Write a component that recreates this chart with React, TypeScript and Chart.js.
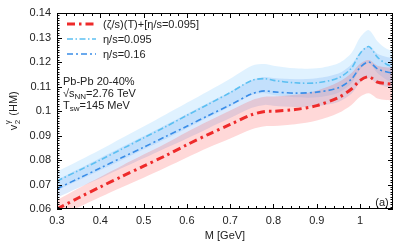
import { useEffect, useRef } from "react";
import { Chart, registerables } from "chart.js";
Chart.register(...registerables);

const masses = [0.3, 0.35, 0.4, 0.45, 0.5, 0.55, 0.6, 0.65, 0.7, 0.75, 0.78, 0.8, 0.85, 0.9, 0.95, 0.98, 1.0, 1.02, 1.04, 1.06, 1.076];

const zetaLine = [0.0600, 0.0646, 0.0690, 0.0733, 0.0775, 0.0817, 0.0862, 0.0905, 0.0945, 0.0985, 0.0998, 0.0999, 0.1006, 0.1022, 0.1055, 0.1090, 0.1125, 0.1140, 0.1118, 0.1112, 0.1110];
const zetaHigh = [0.0636, 0.0685, 0.0731, 0.0777, 0.0822, 0.0866, 0.0914, 0.0959, 0.1002, 0.1044, 0.1058, 0.1059, 0.1066, 0.1083, 0.1118, 0.1155, 0.1193, 0.1208, 0.1185, 0.1179, 0.1177];
const zetaLow = [0.0564, 0.0607, 0.0649, 0.0689, 0.0728, 0.0768, 0.0810, 0.0851, 0.0888, 0.0926, 0.0938, 0.0939, 0.0946, 0.0961, 0.0992, 0.1025, 0.1058, 0.1072, 0.1051, 0.1045, 0.1043];

const eta095Line = [0.0714, 0.0757, 0.0800, 0.0845, 0.0890, 0.0935, 0.0982, 0.1028, 0.1075, 0.1125, 0.1132, 0.1125, 0.1115, 0.1115, 0.1135, 0.1175, 0.1235, 0.1263, 0.1220, 0.1192, 0.1180];
const eta095High = [0.0752, 0.0797, 0.0842, 0.0890, 0.0937, 0.0985, 0.1034, 0.1082, 0.1132, 0.1185, 0.1192, 0.1185, 0.1174, 0.1174, 0.1195, 0.1237, 0.1300, 0.1330, 0.1285, 0.1255, 0.1245];
const eta095Low = [0.0676, 0.0717, 0.0758, 0.0800, 0.0843, 0.0885, 0.0930, 0.0974, 0.1018, 0.1065, 0.1072, 0.1065, 0.1056, 0.1056, 0.1075, 0.1113, 0.1170, 0.1196, 0.1155, 0.1129, 0.1115];

const eta16Line = [0.0683, 0.0725, 0.0767, 0.0810, 0.0852, 0.0895, 0.0938, 0.0982, 0.1025, 0.1070, 0.1082, 0.1078, 0.1073, 0.1077, 0.1095, 0.1130, 0.1178, 0.1200, 0.1172, 0.1160, 0.1155];
const eta16High = [0.0719, 0.0763, 0.0808, 0.0853, 0.0897, 0.0942, 0.0988, 0.1034, 0.1079, 0.1127, 0.1139, 0.1135, 0.1130, 0.1134, 0.1153, 0.1190, 0.1240, 0.1264, 0.1234, 0.1221, 0.1216];
const eta16Low = [0.0647, 0.0687, 0.0726, 0.0767, 0.0807, 0.0848, 0.0888, 0.0930, 0.0971, 0.1013, 0.1025, 0.1021, 0.1016, 0.1020, 0.1037, 0.1070, 0.1116, 0.1136, 0.1110, 0.1099, 0.1094];

const xTicks = [0.3, 0.4, 0.5, 0.6, 0.7, 0.8, 0.9, 1.0];
const yTicks = [0.06, 0.07, 0.08, 0.09, 0.1, 0.11, 0.12, 0.13, 0.14];

const legendLabels = ["(ζ/s)(T)+[η/s=0.095]", "η/s=0.095", "η/s=0.16"];

const FONT = "'Liberation Sans', Arial, Helvetica, sans-serif";
const RED = "#ee2a2a";
const LBLUE = "#5cc0f2";
const DBLUE = "#3a8de8";
const RED_DASH = [8, 4, 2.5, 4];
const LB_DASH = [6, 2.5, 1.5, 2.5];
const DB_DASH = [6, 3, 2, 3];

const pts = (ys: number[]) => masses.map((x, i) => ({ x, y: ys[i] }));

const decor = {
  id: "decor",
  afterDraw(chart: any) {
    const ctx = chart.ctx;
    const { left, right, top, bottom } = chart.chartArea;
    const xs = chart.scales.x;
    const ys = chart.scales.y;
    ctx.save();
    ctx.strokeStyle = "#000";
    ctx.lineWidth = 1;
    ctx.setLineDash([]);
    ctx.strokeRect(left + 0.5, top + 0.5, right - left - 1, bottom - top - 1);
    ctx.beginPath();
    for (let i = 0; i <= 40; i++) {
      const v = 0.3 + i * 0.02;
      if (v > 1.076) break;
      const px = Math.round(xs.getPixelForValue(v)) + 0.5;
      const major = i % 5 === 0;
      const len = major ? 5 : 3;
      ctx.moveTo(px, bottom);
      ctx.lineTo(px, bottom - len);
      ctx.moveTo(px, top);
      ctx.lineTo(px, top + len);
    }
    for (let i = 0; i <= 80; i++) {
      const v = 0.06 + i * 0.001;
      const py = Math.round(ys.getPixelForValue(v)) + 0.5;
      const major = i % 10 === 0;
      const len = major ? 5 : 2.5;
      ctx.moveTo(left, py);
      ctx.lineTo(left + len, py);
      ctx.moveTo(right, py);
      ctx.lineTo(right - len, py);
    }
    ctx.stroke();

    const rows = [
      { c: RED, w: 3, d: RED_DASH, y: 24 },
      { c: LBLUE, w: 1.5, d: LB_DASH, y: 39 },
      { c: DBLUE, w: 1.5, d: DB_DASH, y: 54 },
    ];
    rows.forEach((r, i) => {
      ctx.beginPath();
      ctx.strokeStyle = r.c;
      ctx.lineWidth = r.w;
      ctx.setLineDash(r.d);
      ctx.moveTo(67, r.y);
      ctx.lineTo(96, r.y);
      ctx.stroke();
      ctx.setLineDash([]);
      ctx.fillStyle = "#222";
      ctx.font = `11px ${FONT}`;
      ctx.textBaseline = "middle";
      ctx.textAlign = "left";
      ctx.fillText(legendLabels[i], 103, r.y + 0.5);
    });

    ctx.fillStyle = "#222";
    ctx.textBaseline = "middle";
    ctx.font = `11px ${FONT}`;
    ctx.fillText("Pb-Pb 20-40%", 63, 82);
    let x = 63;
    ctx.fillText("√s", x, 94);
    x += ctx.measureText("√s").width;
    ctx.font = `8px ${FONT}`;
    ctx.fillText("NN", x, 97);
    x += ctx.measureText("NN").width;
    ctx.font = `11px ${FONT}`;
    ctx.fillText("=2.76 TeV", x, 94);
    x = 63;
    ctx.fillText("T", x, 106);
    x += ctx.measureText("T").width;
    ctx.font = `8px ${FONT}`;
    ctx.fillText("sw", x, 109);
    x += ctx.measureText("sw").width;
    ctx.font = `11px ${FONT}`;
    ctx.fillText("=145 MeV", x, 106);

    ctx.textAlign = "center";
    ctx.fillText("(a)", 382, 203);
    ctx.fillText("M [GeV]", (left + right) / 2, 236);

    ctx.save();
    ctx.translate(14, (top + bottom) / 2);
    ctx.rotate(-Math.PI / 2);
    ctx.textAlign = "left";
    ctx.font = `11px ${FONT}`;
    const wV = ctx.measureText("v").width;
    const wHM = ctx.measureText(" (HM)").width;
    ctx.font = `8px ${FONT}`;
    const wSub = Math.max(ctx.measureText("2").width, ctx.measureText("γ").width) + 1;
    const total = wV + wSub + wHM;
    let tx = -total / 2;
    ctx.font = `11px ${FONT}`;
    ctx.fillText("v", tx, 0);
    tx += wV + 0.5;
    ctx.font = `8px ${FONT}`;
    ctx.fillText("2", tx, 4);
    ctx.fillText("γ", tx, -6);
    tx += wSub;
    ctx.font = `11px ${FONT}`;
    ctx.fillText(" (HM)", tx, 0);
    ctx.restore();

    ctx.restore();
  },
};

export default function App() {
  const ref = useRef<HTMLCanvasElement | null>(null);
  useEffect(() => {
    document.body.style.margin = "0";
    if (!ref.current) return;
    const band = (lo: number[], hi: number[], color: string, order: number) => [
      { data: pts(lo), borderWidth: 0, pointRadius: 0, fill: false, order, tension: 0.3 },
      { data: pts(hi), borderWidth: 0, pointRadius: 0, fill: "-1", backgroundColor: color, order, tension: 0.3 },
    ];
    const line = (ys: number[], color: string, w: number, dash: number[]) => ({
      data: pts(ys),
      borderColor: color,
      borderWidth: w,
      borderDash: dash,
      pointRadius: 0,
      fill: false,
      order: 0,
      tension: 0.3,
    });
    const chart = new Chart(ref.current, {
      type: "line",
      data: {
        datasets: [
          ...band(eta095Low, eta095High, "rgba(100,190,255,0.2)", 5),
          ...band(eta16Low, eta16High, "rgba(60,140,240,0.18)", 4),
          ...band(zetaLow, zetaHigh, "rgba(255,60,60,0.2)", 3),
          line(eta095Line, LBLUE, 1.6, LB_DASH),
          line(eta16Line, DBLUE, 1.6, DB_DASH),
          line(zetaLine, RED, 3, RED_DASH),
        ] as any,
      },
      options: {
        responsive: false,
        animation: false,
        events: [],
        layout: { padding: { left: 0, top: 13, right: 18, bottom: 0 } },
        plugins: { legend: { display: false }, tooltip: { enabled: false } },
        scales: {
          x: {
            type: "linear",
            min: 0.3,
            max: 1.076,
            grid: { display: false, drawTicks: false },
            border: { display: false },
            afterBuildTicks: (s: any) => { s.ticks = xTicks.map((v) => ({ value: v })); },
            afterFit: (s: any) => { s.height = 38; },
            ticks: {
              padding: 5,
              maxRotation: 0,
              autoSkip: false,
              color: "#222",
              font: { family: FONT, size: 11 },
              callback: (v: any) => String(parseFloat(Number(v).toFixed(2))),
            },
          },
          y: {
            type: "linear",
            min: 0.06,
            max: 0.14,
            grid: { display: false, drawTicks: false },
            border: { display: false },
            afterBuildTicks: (s: any) => { s.ticks = yTicks.map((v) => ({ value: v })); },
            afterFit: (s: any) => { s.width = 57; },
            ticks: {
              padding: 6,
              autoSkip: false,
              color: "#222",
              font: { family: FONT, size: 11 },
              callback: (v: any) => String(parseFloat(Number(v).toFixed(3))),
            },
          },
        },
      },
      plugins: [decor],
    });
    return () => chart.destroy();
  }, []);
  return <canvas ref={ref} width={411} height={247} style={{ display: "block" }} />;
}
